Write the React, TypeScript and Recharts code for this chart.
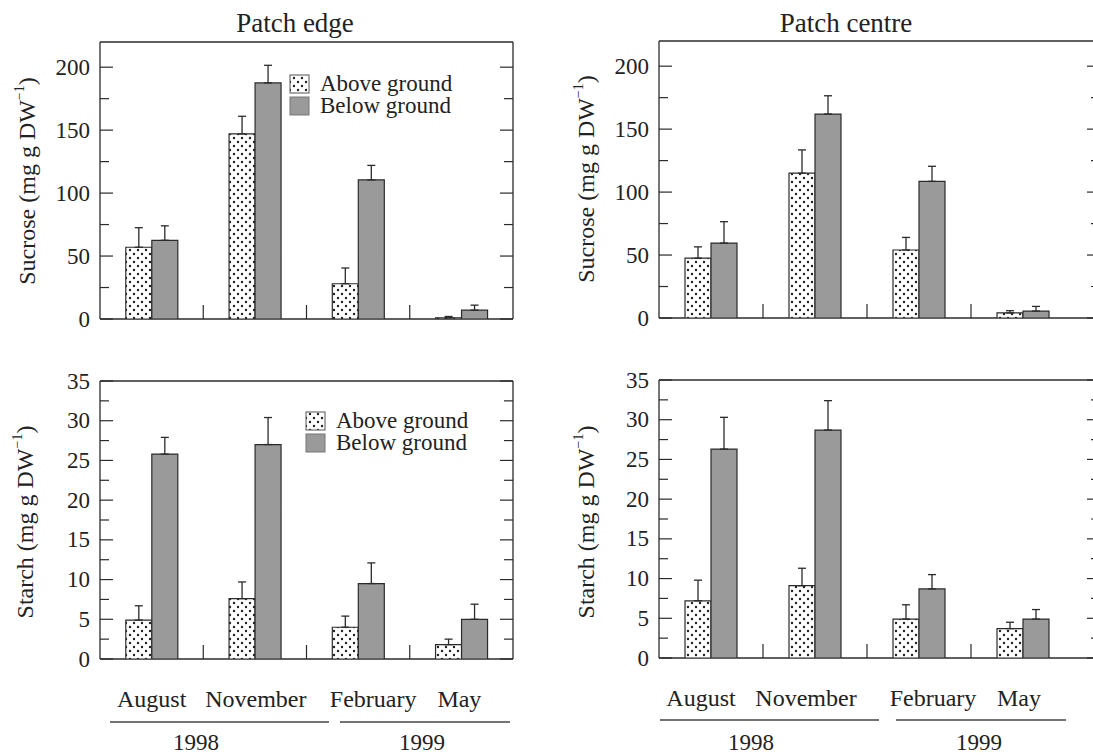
import React from 'react';
import { BarChart, Bar, XAxis, YAxis, CartesianGrid, ErrorBar } from 'recharts';

const FONT = 'Liberation Serif, DejaVu Serif, serif';
const INK = '#2b2b2b';
const GREY = '#9a9a9a';

const MONTHS = ['August', 'November', 'February', 'May'];

const SUCROSE_TICKS = [0, 25, 50, 75, 100, 125, 150, 175, 200];
const STARCH_TICKS = [0, 2.5, 5, 7.5, 10, 12.5, 15, 17.5, 20, 22.5, 25, 27.5, 30, 32.5, 35];

// sucrose, patch edge
const EDGE_SUC_ABOVE = [57, 147, 28, 1];
const EDGE_SUC_ABOVE_ERR = [15.5, 14, 12.5, 1];
const EDGE_SUC_BELOW = [62.5, 187.5, 110.5, 7];
const EDGE_SUC_BELOW_ERR = [11.5, 14, 11.5, 4];

// sucrose, patch centre
const CTR_SUC_ABOVE = [47.5, 115, 54, 4];
const CTR_SUC_ABOVE_ERR = [9, 18.5, 10, 1.8];
const CTR_SUC_BELOW = [59.5, 162, 108.5, 5.5];
const CTR_SUC_BELOW_ERR = [17, 14.5, 12, 3.7];

// starch, patch edge
const EDGE_STA_ABOVE = [4.9, 7.6, 4.0, 1.8];
const EDGE_STA_ABOVE_ERR = [1.8, 2.1, 1.4, 0.7];
const EDGE_STA_BELOW = [25.8, 27.0, 9.5, 5.0];
const EDGE_STA_BELOW_ERR = [2.1, 3.4, 2.6, 1.9];

// starch, patch centre
const CTR_STA_ABOVE = [7.2, 9.1, 4.9, 3.7];
const CTR_STA_ABOVE_ERR = [2.6, 2.2, 1.8, 0.8];
const CTR_STA_BELOW = [26.3, 28.7, 8.7, 4.9];
const CTR_STA_BELOW_ERR = [4.0, 3.7, 1.8, 1.2];

const DotPattern = ({ id }: { id: string }) => (
  <pattern id={id} patternUnits="userSpaceOnUse" width={8} height={8}>
    <rect width={8} height={8} fill="#fff" />
    <circle cx={2} cy={2} r={1.2} fill="#1e1e1e" />
    <circle cx={6} cy={6} r={1.2} fill="#1e1e1e" />
  </pattern>
);

type PanelProps = {
  id: string;
  left: number;
  top: number;
  width: number;
  height: number;
  margin: { top: number; right: number; bottom: number; left: number };
  xHeight: number;
  padRight: number;
  rightBorder: boolean;
  above: number[];
  aboveErr: number[];
  below: number[];
  belowErr: number[];
  yMax: number;
  ticks: number[];
  major: number;
  showMonths?: boolean;
  nudge?: number[];
};

const Panel = (p: PanelProps) => {
  const data = MONTHS.map((m, i) => ({
    month: m,
    above: p.above[i],
    below: p.below[i],
    aboveErr: [0, p.aboveErr[i]],
    belowErr: [0, p.belowErr[i]],
  }));
  const yw = 60;
  const plotW = p.width - p.margin.left - p.margin.right - yw;

  const yTick = (props: any) => {
    const { x, y, payload } = props;
    const v = payload.value;
    const isMajor = Math.abs(v / p.major - Math.round(v / p.major)) < 1e-6;
    const len = isMajor ? 13 : 9;
    return (
      <g>
        <line x1={x} x2={x + len} y1={y} y2={y} stroke={INK} strokeWidth={1.2} />
        <line x1={x + plotW - len} x2={x + plotW} y1={y} y2={y} stroke={INK} strokeWidth={1.2} />
        {isMajor && (
          <text x={x - 10} y={y} textAnchor="end" dominantBaseline="central" fontFamily={FONT} fontSize={23} fill="#222">
            {v}
          </text>
        )}
      </g>
    );
  };

  const xTick = (props: any) => {
    const { x, y, payload, index } = props;
    const half = payload.offset ?? 0;
    return (
      <g>
        {index < MONTHS.length - 1 && (
          <line x1={x + half} x2={x + half} y1={y} y2={y - 14} stroke={INK} strokeWidth={1.2} />
        )}
        {p.showMonths && (
          <text x={x + (p.nudge ? p.nudge[index] : 0)} y={y + 48} textAnchor="middle" fontFamily={FONT} fontSize={24} fill="#222">
            {payload.value}
          </text>
        )}
      </g>
    );
  };

  return (
    <div style={{ position: 'absolute', left: p.left, top: p.top }}>
      <BarChart width={p.width} height={p.height} data={data} margin={p.margin} barCategoryGap="25%" barGap={0}>
        <defs>
          <DotPattern id={`${p.id}-dots`} />
        </defs>
        <CartesianGrid
          stroke={INK}
          strokeWidth={1.3}
          horizontalCoordinatesGenerator={({ offset }: any) => [offset.top, offset.top + offset.height]}
          verticalCoordinatesGenerator={({ offset }: any) =>
            p.rightBorder ? [offset.left, offset.left + offset.width] : [offset.left]
          }
        />
        <XAxis
          dataKey="month"
          axisLine={false}
          tickLine={false}
          tickSize={0}
          tickMargin={0}
          height={p.xHeight}
          interval={0}
          padding={{ left: 0, right: p.padRight }}
          tick={xTick}
        />
        <YAxis
          type="number"
          domain={[0, p.yMax]}
          ticks={p.ticks}
          interval={0}
          allowDataOverflow
          axisLine={false}
          tickLine={false}
          tickSize={0}
          tickMargin={0}
          width={yw}
          tick={yTick}
        />
        <Bar dataKey="above" fill={`url(#${p.id}-dots)`} stroke={INK} strokeWidth={1.2} isAnimationActive={false}>
          <ErrorBar dataKey="aboveErr" width={4} stroke={INK} strokeWidth={1.3} direction="y" isAnimationActive={false} />
        </Bar>
        <Bar dataKey="below" fill={GREY} stroke={INK} strokeWidth={1.2} isAnimationActive={false}>
          <ErrorBar dataKey="belowErr" width={4} stroke={INK} strokeWidth={1.3} direction="y" isAnimationActive={false} />
        </Bar>
      </BarChart>
    </div>
  );
};

const YLabel = ({ cx, cy, name }: { cx: number; cy: number; name: string }) => (
  <text
    transform={`translate(${cx},${cy}) rotate(-90)`}
    textAnchor="middle"
    dominantBaseline="central"
    fontFamily={FONT}
    fontSize={24}
    fill="#222"
  >
    {name} (mg g DW
    <tspan dy={-8} fontSize={14}>
      −1
    </tspan>
    <tspan dy={8}>)</tspan>
  </text>
);

const LegendBlock = ({ x, y, id }: { x: number; y: number; id: string }) => (
  <g fontFamily={FONT} fontSize={23} fill="#222">
    <rect x={x} y={y} width={19} height={18} fill={`url(#${id})`} stroke="#555" strokeWidth={1} />
    <text x={x + 30} y={y + 16}>Above ground</text>
    <rect x={x} y={y + 22} width={19} height={18} fill={GREY} stroke="#777" strokeWidth={1} />
    <text x={x + 30} y={y + 38}>Below ground</text>
  </g>
);

const App = () => {
  return (
    <div style={{ position: 'absolute', left: 0, top: 0, width: 1093, height: 755, overflow: 'hidden', background: '#fff', fontFamily: FONT }}>
      <Panel
        id="tl"
        left={0}
        top={0}
        width={546}
        height={340}
        margin={{ top: 42, right: 33, bottom: 1, left: 40 }}
        xHeight={20}
        padRight={0}
        rightBorder
        above={EDGE_SUC_ABOVE}
        aboveErr={EDGE_SUC_ABOVE_ERR}
        below={EDGE_SUC_BELOW}
        belowErr={EDGE_SUC_BELOW_ERR}
        yMax={220}
        ticks={SUCROSE_TICKS}
        major={50}
      />
      <Panel
        id="tr"
        left={546}
        top={0}
        width={566}
        height={340}
        margin={{ top: 41, right: 12, bottom: 2, left: 53 }}
        xHeight={20}
        padRight={25}
        rightBorder={false}
        above={CTR_SUC_ABOVE}
        aboveErr={CTR_SUC_ABOVE_ERR}
        below={CTR_SUC_BELOW}
        belowErr={CTR_SUC_BELOW_ERR}
        yMax={220}
        ticks={SUCROSE_TICKS}
        major={50}
      />
      <Panel
        id="bl"
        left={0}
        top={345}
        width={546}
        height={410}
        margin={{ top: 36, right: 33, bottom: 1, left: 40 }}
        xHeight={95}
        padRight={0}
        rightBorder
        above={EDGE_STA_ABOVE}
        aboveErr={EDGE_STA_ABOVE_ERR}
        below={EDGE_STA_BELOW}
        belowErr={EDGE_STA_BELOW_ERR}
        yMax={35}
        ticks={STARCH_TICKS}
        major={5}
        showMonths
        nudge={[0, 1, 15, -2]}
      />
      <Panel
        id="br"
        left={546}
        top={345}
        width={566}
        height={410}
        margin={{ top: 35, right: 12, bottom: 2, left: 53 }}
        xHeight={95}
        padRight={25}
        rightBorder={false}
        above={CTR_STA_ABOVE}
        aboveErr={CTR_STA_ABOVE_ERR}
        below={CTR_STA_BELOW}
        belowErr={CTR_STA_BELOW_ERR}
        yMax={35}
        ticks={STARCH_TICKS}
        major={5}
        showMonths
        nudge={[-10, -9, 14, -4]}
      />
      <svg width={1093} height={755} style={{ position: 'absolute', left: 0, top: 0, pointerEvents: 'none' }}>
        <defs>
          <DotPattern id="legend-dots" />
        </defs>
        <g fontFamily={FONT} fontSize={27} fill="#222" textAnchor="middle">
          <text x={295} y={32}>Patch edge</text>
          <text x={846} y={32}>Patch centre</text>
        </g>
        <YLabel cx={27} cy={181} name="Sucrose" />
        <YLabel cx={586} cy={179} name="Sucrose" />
        <YLabel cx={25} cy={522} name="Starch" />
        <YLabel cx={586} cy={522} name="Starch" />
        <LegendBlock x={290} y={75} id="legend-dots" />
        <LegendBlock x={306} y={412} id="legend-dots" />
        <g stroke="#444" strokeWidth={1.5}>
          <line x1={110} x2={329} y1={722} y2={722} />
          <line x1={340} x2={510} y1={722} y2={722} />
          <line x1={660} x2={879} y1={720} y2={720} />
          <line x1={896} x2={1066} y1={720} y2={720} />
        </g>
        <g fontFamily={FONT} fontSize={23} fill="#222" textAnchor="middle">
          <text x={196} y={750}>1998</text>
          <text x={422} y={750}>1999</text>
          <text x={751} y={750}>1998</text>
          <text x={979} y={750}>1999</text>
        </g>
      </svg>
    </div>
  );
};

export default App;
